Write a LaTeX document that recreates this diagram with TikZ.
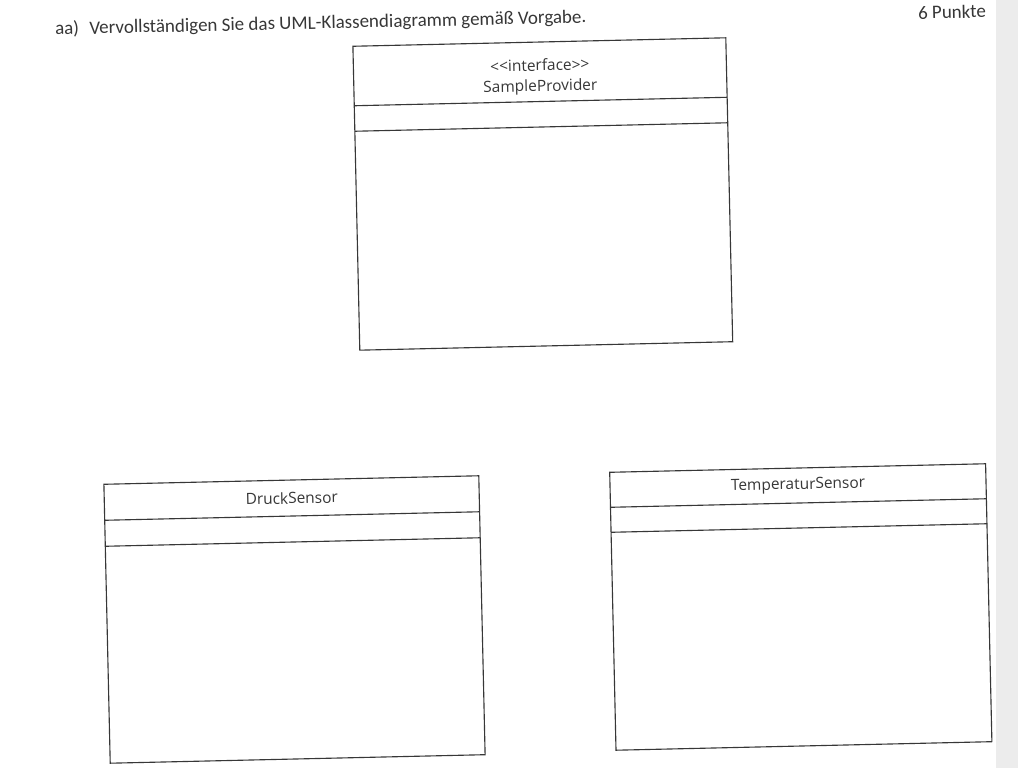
\documentclass[tikz,border=0pt]{standalone}
\usepackage{fontspec}
\setmainfont{Open Sans}
\newfontfamily\titlefont{Carlito}
\usetikzlibrary{positioning}
\definecolor{scanink}{RGB}{55,55,55}
\definecolor{scanedge}{RGB}{236,236,236}
\tikzset{
  classbox/.style={draw=scanink, line width=0.8pt, inner sep=0pt},
  classline/.style={draw=scanink, line width=0.8pt},
  classname/.style={font=\fontsize{11}{14.5}\selectfont, text=scanink, align=center},
  tasktext/.style={font=\titlefont\fontsize{13.5}{16}\selectfont, text=scanink, inner sep=0pt},
}

\begin{document}
\begin{tikzpicture}
    % page of the scan
    \clip (0,0) rectangle (25.45,19.2);
    \fill[white] (0,0) rectangle (25.45,19.2);
    \fill[scanedge] (24.9,0) rectangle (25.45,19.2);

    % Task line
    \node[tasktext, anchor=base west, rotate=1.3] (task) at (1.375,18.33)
        {aa)\hspace{0.55em}Vervollständigen Sie das UML-Klassendiagramm gemäß Vorgabe.};
    \node[tasktext, anchor=base west, rotate=1.3] (points) at (22.95,18.72) {6 Punkte};

    % Interface
    \begin{scope}[shift={(13.57,14.35)}, rotate=1.3, transform shape]
        \node[classbox, minimum width=9.325cm, minimum height=7.6cm] (provider) at (0,0) {};
        \draw[classline] (-4.6625,2.3125) -- (4.6625,2.3125);
        \draw[classline] (-4.6625,1.675) -- (4.6625,1.675);
        \node[classname] (providername) at (0,2.925)
            {<\kern0pt<interface>\kern0pt>\\SampleProvider};
    \end{scope}

    % Left class
    \begin{scope}[shift={(7.3625,3.7125)}, rotate=1.3, transform shape]
        \node[classbox, minimum width=9.375cm, minimum height=6.975cm] (druck) at (0,0) {};
        \draw[classline] (-4.6875,2.5875) -- (4.6875,2.5875);
        \draw[classline] (-4.6875,1.9375) -- (4.6875,1.9375);
        \node[classname] (druckname) at (0,3.0375) {DruckSensor};
    \end{scope}

    % Right class
    \begin{scope}[shift={(20.02,4.025)}, rotate=1.3, transform shape]
        \node[classbox, minimum width=9.4cm, minimum height=6.95cm] (temperatur) at (0,0) {};
        \draw[classline] (-4.7,2.6) -- (4.7,2.6);
        \draw[classline] (-4.7,1.975) -- (4.7,1.975);
        \node[classname] (temperaturname) at (0,3.0375) {TemperaturSensor};
    \end{scope}
\end{tikzpicture}
\end{document}
